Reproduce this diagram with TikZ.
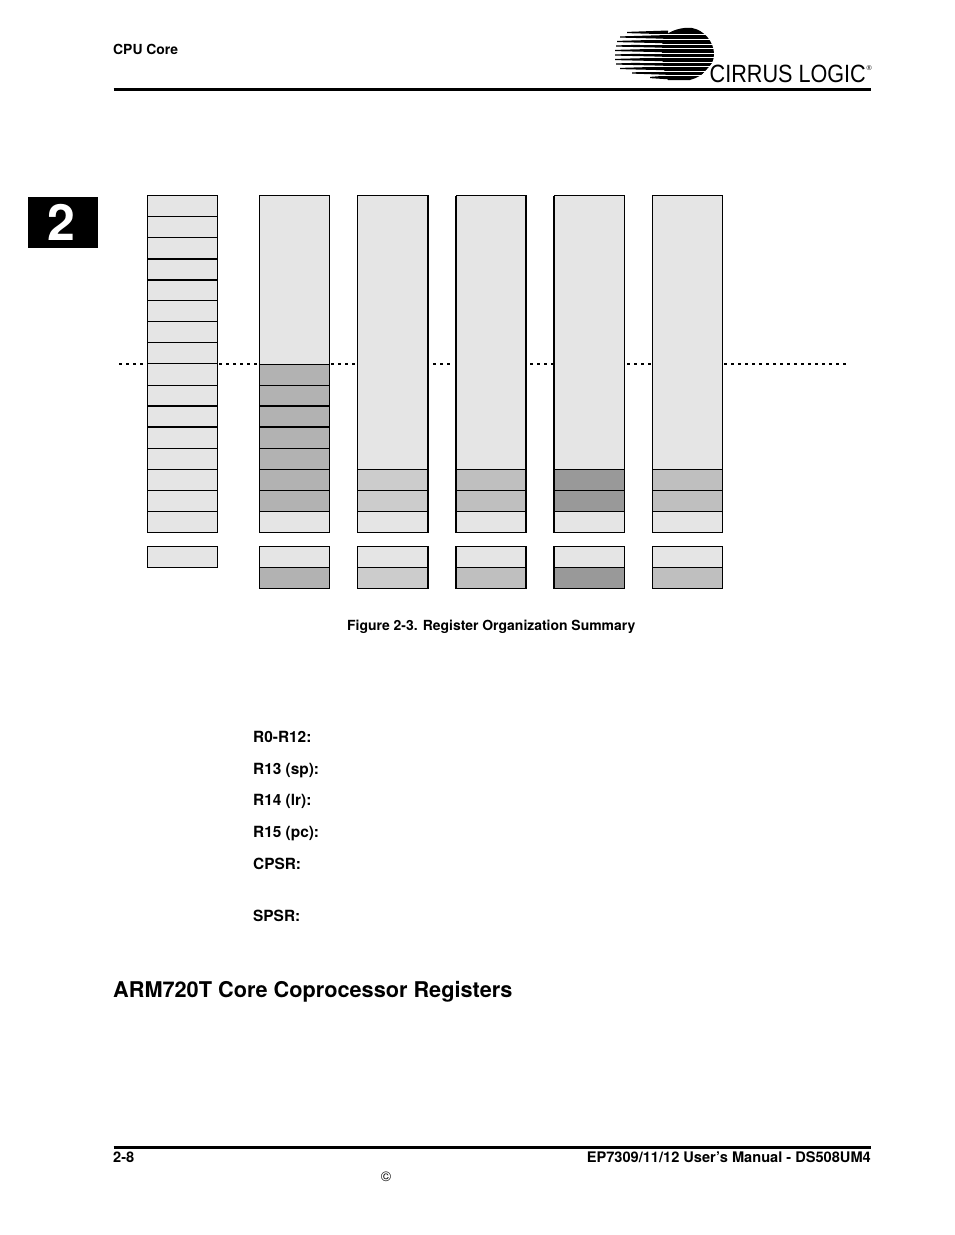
\documentclass[tikz,border=0pt]{standalone}
\usepackage{fontspec}
\setmainfont{TeX Gyre Heros}
\newfontfamily\logofont{Liberation Sans}
\tikzset{
 x=1pt,y=-1pt,
 reg/.style={draw=black,line width=1pt,line join=miter},
 lt/.style={reg,fill=black!10},
 md/.style={reg,fill=black!30},
 sg/.style={reg,fill=black!20},
 sb/.style={reg,fill=black!25},
 dk/.style={reg,fill=black!40},
 heavy/.style={line width=2pt},
 dots/.style={line width=2pt,dash pattern=on 3pt off 4pt},
 lab/.style={font=\fontsize{13.9}{15}\selectfont\bfseries,anchor=base west,inner sep=0pt},
 biglab/.style={lab,font=\fontsize{15.4}{17}\selectfont\bfseries},
 footlab/.style={lab,font=\fontsize{14.6}{16}\selectfont\bfseries},
 rulel/.style={line width=3pt}
}
\begin{document}
\begin{tikzpicture}
\useasboundingbox (0,0) rectangle (954,1235);
% header
\node[lab] (hdr) at (113,54) {CPU Core};
\draw[rulel] (113.5,89) -- (871,89);
% logo: left streaks, tapering towards the left
\foreach \yy/\xa in {32.5/627,37/620,41.5/617,46/616,50.5/615,55/615,59.5/615,64/616,68.5/620,73/632,77.5/650}{
 \fill (\xa,\yy-0.6) -- (668,\yy-2) -- (668,\yy+1.8) -- (\xa,\yy+0.6) -- cycle;
}
% logo: solid body with thin white bands
\fill (664,36) .. controls (672,30) and (682,27) .. (692,28) .. controls (704,30) and (714,42) .. (714,54)
 .. controls (714,66) and (704,76) .. (690,80) -- (668,80) .. controls (662,70) and (660,46) .. (664,36) -- cycle;
\foreach \yy in {34.5,39.5,44,48.5,53,57.5,62,66.5,71,75.5}{
 \draw[white,line width=0.8pt] (640,\yy) -- (716,\yy);
}
\fill[white] (717,58) -- (717,85) -- (693,85) -- cycle;
\node[font=\logofont\fontsize{25}{26}\selectfont,anchor=base west,inner sep=0pt,xscale=0.865] (logotext) at (709.5,82) {CIRRUS LOGIC};
\node[font=\logofont\fontsize{7}{8}\selectfont,anchor=base west,inner sep=0pt] (logor) at (866.5,70) {®};
% chapter tab
\fill (28,197) rectangle (98,248);
\node[font=\fontsize{50}{54}\selectfont\bfseries,text=white,inner sep=0pt,anchor=base] (chap) at (61,240) {2};
% dotted reference line
\draw[dots] (119,364) -- (147,364);
\draw[dots] (219,364) -- (259,364);
\draw[dots] (331,364) -- (355,364);
\draw[dots] (433,364) -- (453,364);
\draw[dots] (530,364) -- (553,364);
\draw[dots] (627,364) -- (652,364);
\draw[dots] (724,364) -- (849,364);
% column 1
\foreach \i in {0,...,15}{
 \pgfmathsetmacro{\ya}{195.5+\i*21.06}
 \pgfmathsetmacro{\yb}{195.5+(\i+1)*21.06}
 \draw[lt] (147.5,\ya) rectangle (217.5,\yb);
}
\draw[heavy] (147.5,259) -- (217.5,259);
\draw[heavy] (147.5,280) -- (217.5,280);
\draw[heavy] (147.5,406.2) -- (217.5,406.2);
\draw[heavy] (147.5,427.2) -- (217.5,427.2);
\draw[lt] (147.5,546.5) rectangle (217.5,567.5);
% column 2
\draw[lt] (259.5,195.5) rectangle (329.5,364.5);
\foreach \i in {0,...,6}{
 \pgfmathsetmacro{\ya}{364.5+\i*21}
 \pgfmathsetmacro{\yb}{364.5+(\i+1)*21}
 \draw[md] (259.5,\ya) rectangle (329.5,\yb);
}
\draw[heavy] (259.5,406.2) -- (329.5,406.2);
\draw[heavy] (259.5,427.2) -- (329.5,427.2);
\draw[lt] (259.5,511.5) rectangle (329.5,532.5);
\draw[lt] (259.5,546.5) rectangle (329.5,567.5);
\draw[md] (259.5,567.5) rectangle (329.5,588.5);
% column 3
\draw[lt] (357.5,195.5) rectangle (428,469.5);
\draw[sg] (357.5,469.5) rectangle (428,490.5);
\draw[sg] (357.5,490.5) rectangle (428,511.5);
\draw[lt] (357.5,511.5) rectangle (428,532.5);
\draw[lt] (357.5,546.5) rectangle (428,567.5);
\draw[sg] (357.5,567.5) rectangle (428,588.5);
\draw[heavy] (428,195.5) -- (428,533) (428,546) -- (428,589);
% column 4
\draw[lt] (456,195.5) rectangle (526,469.5);
\draw[sb] (456,469.5) rectangle (526,490.5);
\draw[sb] (456,490.5) rectangle (526,511.5);
\draw[lt] (456,511.5) rectangle (526,532.5);
\draw[lt] (456,546.5) rectangle (526,567.5);
\draw[sb] (456,567.5) rectangle (526,588.5);
\draw[heavy] (456,195.5) -- (456,533) (456,546) -- (456,589);
\draw[heavy] (526,195.5) -- (526,533) (526,546) -- (526,589);
% column 5
\draw[lt] (554,195.5) rectangle (624.5,469.5);
\draw[dk] (554,469.5) rectangle (624.5,490.5);
\draw[dk] (554,490.5) rectangle (624.5,511.5);
\draw[lt] (554,511.5) rectangle (624.5,532.5);
\draw[lt] (554,546.5) rectangle (624.5,567.5);
\draw[dk] (554,567.5) rectangle (624.5,588.5);
\draw[heavy] (554,195.5) -- (554,533) (554,546) -- (554,589);
% column 6
\draw[lt] (652.5,195.5) rectangle (722.5,469.5);
\draw[sb] (652.5,469.5) rectangle (722.5,490.5);
\draw[sb] (652.5,490.5) rectangle (722.5,511.5);
\draw[lt] (652.5,511.5) rectangle (722.5,532.5);
\draw[lt] (652.5,546.5) rectangle (722.5,567.5);
\draw[sb] (652.5,567.5) rectangle (722.5,588.5);
% caption and labels
\node[lab,font=\fontsize{13.93}{15}\selectfont\bfseries] (cap) at (347,630) {Figure 2-3. Register Organization Summary};
\node[biglab] (r0) at (253,742.3) {R0-R12:};
\node[biglab] (r13) at (253,774.3) {R13 (sp):};
\node[biglab] (r14) at (253,805.5) {R14 (lr):};
\node[biglab] (r15) at (253,837.3) {R15 (pc):};
\node[biglab] (cpsr) at (253,869.3) {CPSR:};
\node[biglab] (spsr) at (253,921.3) {SPSR:};
\node[font=\fontsize{21.7}{24}\selectfont\bfseries,anchor=base west,inner sep=0pt] (sect) at (113,997) {ARM720T Core Coprocessor Registers};
% footer
\draw[rulel] (113.5,1147.5) -- (871,1147.5);
\node[footlab] (pg) at (113,1162.5) {2-8};
\node[footlab,anchor=base east] (doc) at (871,1162.5) {EP7309/11/12 User’s Manual - DS508UM4};
\node[font=\fontsize{14}{15}\selectfont,anchor=base,inner sep=0pt] (copy) at (386,1181) {©};
\end{tikzpicture}
\end{document}
